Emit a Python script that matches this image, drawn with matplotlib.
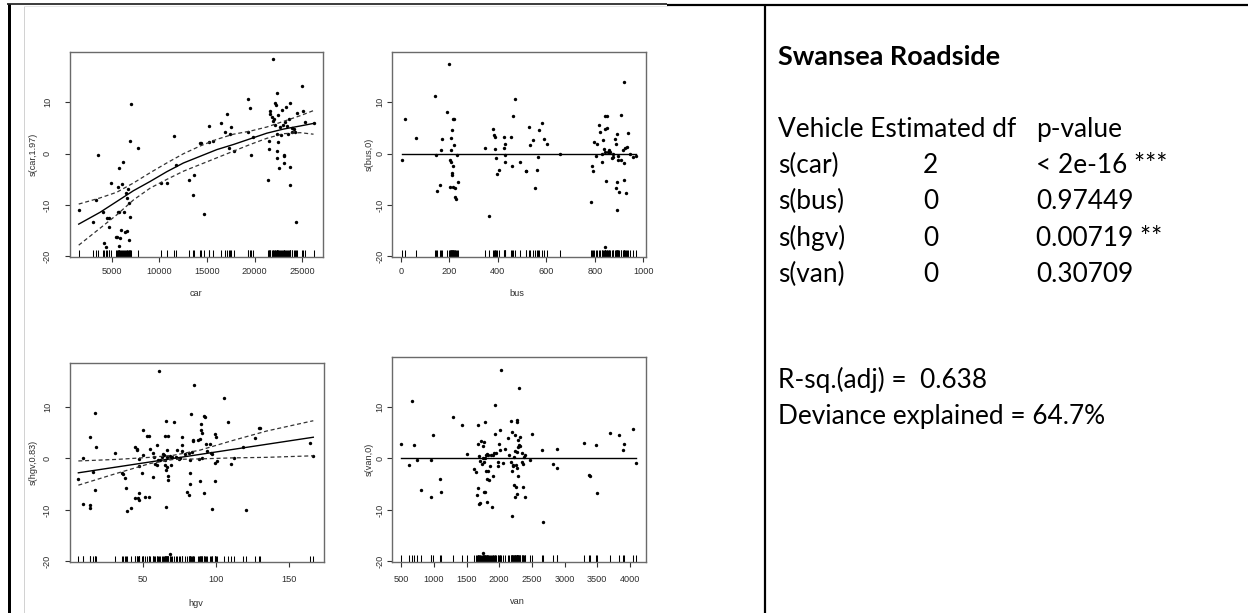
import matplotlib
matplotlib.use("Agg")
import matplotlib.pyplot as plt

# ---------------- data ----------------
car_x = [1535, 3075, 3355, 3600, 4055, 4160, 4370, 4545, 4685, 4755, 4895, 5490, 5595, 5700,
         5700, 5735, 5735, 5805, 5910, 5945, 6120, 6225, 6330, 6435, 6575, 6470, 6610, 6715,
         6820, 6855, 6925, 6925, 7065, 7730,
         10180, 10775, 11510, 11720, 13085, 13505, 13680, 14275, 14380, 14695, 15185, 15185,
         15675, 16515, 16935, 17110, 17320, 17425, 17530, 17880, 19350, 19525, 19350, 19630, 19875,
         21380, 21555, 21555, 21590, 21660, 21800, 21940, 21975, 22045, 22150, 22185, 22290,
         22325, 22325, 22360, 22360, 22430, 22500, 22535, 22675, 22745, 22850, 22955, 23060,
         23095, 23095, 23165, 23270, 23375, 23445, 23585, 23655, 23690, 23725, 23865, 23935,
         24075, 24180, 24355, 24460, 24950, 25020, 25300, 26175]
car_y = [-10.9, -13.3, -9.1, -0.3, -11.4, -17.3, -18.2, -12.6, -12.5, -14.3, -5.7, -16.2, -16.3, -6.4,
         -11.3, -2.7, -18.0, -11.3, -16.4, -14.8, -5.8, -1.7, -11.3, -15.2, -15.0, -7.6, -8.6, -6.8,
         -16.7, -9.6, 2.5, -12.4, 9.6, 1.1,
         -5.6, -5.6, 3.5, -2.1, -5.2, -8.0, -4.2, 2.1, 2.1, -11.7, 5.3, 2.2,
         2.5, 5.9, 4.3, 7.7, 1.2, 3.8, 5.2, 0.6, 10.6, 8.9, 4.3, -0.3, 3.3,
         -5.2, 2.4, 0.9, 7.8, 8.4, 7.1, 18.4, 6.3, 6.7, 5.6, 9.8, 9.5,
         11.8, 3.9, 0.6, -0.8, 2.2, 7.5, -2.8, 5.2, 3.6, 8.5, 5.6, -0.5,
         -0.3, -1.9, 6.2, 9.0, 5.3, 3.9, 6.7, -2.6, 9.9, -6.1, 5.1, 4.2,
         4.8, 4.2, -13.2, 7.9, 13.1, 8.4, 6.1, 5.9]

car_fit_x = [1535, 3775, 5525, 7275, 9025, 10775, 12525, 14275, 16025, 17775, 19525, 21275,
             23025, 24775, 26175]
car_fit_y = [-13.7, -11.4, -9.3, -7.2, -5.4, -3.5, -1.8, -0.5, 0.8, 1.8, 2.9, 4.0, 4.8, 5.4, 5.9]
car_upper = [-9.8, -8.6, -7.5, -5.7, -3.7, -1.8, 0.0, 1.5, 2.8, 3.8, 4.4, 5.2, 6.3, 7.4, 8.4]
car_lower = [-17.8, -14.5, -11.9, -9.0, -6.7, -5.0, -3.4, -2.1, -0.8, 0.5, 1.8, 3.0, 3.9, 4.1, 3.8]

bus_x = [5, 19, 63, 140, 145, 148, 160, 166, 172, 192, 200, 202, 204, 207, 208, 208, 211, 212,
         213, 215, 216, 217, 220, 220, 223, 224, 227, 233, 238, 347, 362, 380, 383, 387, 390,
         392, 398, 403, 424, 424, 428, 429, 431, 453, 457, 462, 469, 490, 516, 518, 527, 531,
         544, 554, 561, 566, 572, 583, 591, 603, 658, 785, 788, 791, 797, 803, 811, 817, 820,
         828, 828, 833, 836, 840, 841, 844, 844, 847, 850, 852, 853, 858, 859, 863, 869, 873,
         877, 885, 886, 889, 890, 892, 893, 895, 897, 901, 907, 908, 915, 919, 920, 922, 926,
         927, 934, 938, 944, 956, 969]
bus_y = [-1.2, 6.7, 3.0, 11.2, -0.2, -7.2, -6.1, 0.8, 2.9, 8.2, 17.5, -6.5, -1.3, 0.8, 3.0, -1.6,
         -4.2, 4.7, -3.7, -2.4, -6.5, 6.7, 6.7, 1.7, -6.6, -8.4, -8.9, -0.2, -5.5, 1.1, -12.2, 4.9,
         3.6, 3.3, 1.0, -0.8, -3.9, -3.2, 3.2, 1.2, 1.9, -1.7, -0.2, 3.2, -2.4, 7.3, 10.6, -1.6,
         -3.4, -3.4, 5.2, 1.7, 2.6, -6.6, -3.1, -0.6, 4.7, 6.0, 2.9, 1.9, -0.1, -9.3, -2.3, -3.4,
         2.3, -0.5, 1.8, 5.6, 4.2, -1.7, 0.0, 2.6, 1.0, 4.9, 7.4, 0.4, -18.2, -5.4, 5.1, 7.3, 0.3,
         0.3, 0.7, 0.3, -0.8, -0.6, 0.0, 2.9, -6.6, 1.9, -5.5, -11.0, 3.8, -1.3, -0.5, -7.5, -1.3,
         7.6, 0.8, 13.9, -5.1, -1.8, 1.2, -7.6, 1.4, 4.0, 0.0, -0.6, -0.5]
bus_fit_x = [5, 969]
bus_fit_y = [0.0, 0.0]

hgv_x = [6.1, 9.3, 9.5, 14.1, 14.3, 14.3, 16.4, 17.3, 17.5, 18.4, 31.4, 36.1, 36.6, 37.7, 38.4,
         39.5, 42.0, 44.5, 45.0, 45.9, 46.4, 47.0, 47.3, 47.5, 47.5, 47.7, 49.3, 50.0, 50.5, 51.4,
         53.0, 54.1, 54.5, 54.8, 56.8, 57.3, 58.0, 58.4, 59.5, 60.0, 60.5, 61.4, 61.8, 63.4, 64.1,
         64.8, 65.0, 65.0, 65.5, 65.7, 65.9, 65.9, 66.4, 66.6, 66.8, 67.0, 67.0, 67.3, 68.6, 68.6,
         69.1, 70.2, 71.1, 72.5, 73.6, 74.5, 75.5, 76.6, 76.8, 77.0, 78.9, 80.5, 81.4, 81.6, 82.3,
         82.5, 82.3, 83.2, 83.4, 84.1, 84.3, 85.0, 87.7, 88.2, 89.1, 89.3, 90.0, 90.0, 90.2, 90.2,
         91.8, 92.0, 92.5, 93.0, 93.6, 95.9, 96.8, 97.0, 97.5, 99.3, 99.3, 99.5, 100.2, 100.5,
         105.5, 108.4, 110.2, 112.5, 118.2, 120.5, 126.6, 129.3, 129.8, 164.3, 166.4]
hgv_y = [-4.0, -8.8, 0.1, 4.1, -9.0, -9.7, -2.7, 8.8, -6.1, 2.3, 1.1, -2.9, -3.1, -3.9, -5.7,
         -10.2, -9.7, -7.7, 2.3, 1.9, 1.6, -7.7, -0.2, -1.4, -6.8, -8.1, -2.9, 5.6, 0.6, -7.4,
         4.3, 4.3, -7.5, 1.9, -3.7, 1.0, 0.3, -1.1, -1.2, 2.6, -0.3, 16.9, -0.3, 0.3, 0.8,
         0.6, 4.4, -1.2, -0.3, -2.3, 7.2, -9.5, 1.6, -1.6, 0.3, 4.3, -3.5, -4.2, 0.5, -18.5,
         -1.2, 0.3, 7.1, 0.2, 1.6, -0.1, 0.0, 1.5, 4.2, 2.5, 0.8, -6.5, 1.0, -7.1, -2.9,
         -5.0, -0.3, 8.6, 1.3, 3.4, 3.5, 14.3, 3.5, -0.2, -4.4, 3.7, 5.6, 6.6, 5.0, 0.0,
         8.2, -6.8, 8.1, 2.8, 1.5, 2.8, 1.0, 0.8, -9.9, -0.8, 4.7, -4.3, 4.1, -0.5,
         11.7, 7.1, -1.0, 0.0, 2.3, -10.1, 4.0, 5.8, 5.8, 2.9, 0.5]
hgv_fit_x = [6.1, 166.4]
hgv_fit_y = [-2.8, 4.1]
hgv_band_x = [6.1, 32.3, 55.0, 70.9, 89.1, 111.8, 134.5, 166.4]
hgv_upper = [-0.5, -0.2, 0.2, 0.6, 1.6, 3.5, 5.3, 7.3]
hgv_lower = [-5.2, -2.9, -1.0, -0.2, -0.1, 0.1, 0.2, 0.5]

van_x = [500, 620, 671, 701, 741, 796, 957, 962, 982, 1087, 1102, 1288, 1434, 1504, 1619, 1645,
         1655, 1670, 1675, 1680, 1685, 1690, 1705, 1710, 1725, 1730, 1745, 1755, 1755, 1760, 1765,
         1770, 1780, 1785, 1790, 1800, 1805, 1810, 1815, 1815, 1825, 1830, 1850, 1860, 1870, 1890,
         1900, 1905, 1920, 1930, 1940, 1950, 1976, 1981, 1991, 2006, 2016, 2026, 2056, 2086, 2132,
         2157, 2177, 2182, 2192, 2192, 2202, 2207, 2217, 2227, 2232, 2237, 2242, 2247, 2252, 2257,
         2267, 2267, 2272, 2277, 2277, 2282, 2287, 2292, 2297, 2302, 2312, 2322, 2342, 2352, 2362,
         2367, 2377, 2387, 2392, 2473, 2498, 2649, 2669, 2824, 2880, 2885, 3296, 3378, 3383, 3475,
         3500, 3694, 3836, 3892, 3907, 4047, 4090]
van_y = [2.8, -1.3, 11.2, 2.7, -0.3, -6.1, -7.4, -0.3, 4.6, -3.9, -6.6, 8.1, 6.5, 0.8, -2.1, -2.6,
         -7.1, 2.8, -5.7, 6.5, 0.5, -8.8, -8.7, -0.5, 3.4, -1.0, 2.5, 0.1, -18.4, 3.2, -6.6,
         -0.6, 7.1, 0.0, -6.6, 0.6, -2.5, 0.8, -4.0, -8.5, -2.5, 0.6, -4.2, -1.4, 0.6, -9.4,
         -3.5, 0.6, 1.0, 4.7, 10.3, 1.1, -1.5, -0.6, 2.9, 1.6, 5.5, 17.2, -0.8, 1.9, 3.9,
         0.6, -0.6, 7.3, -2.4, -11.2, 5.2, -1.2, -1.4, -5.2, 0.3, 1.5, -7.5, 4.6, -1.3, -5.5,
         -1.9, 7.4, 7.0, -6.9, 1.3, -3.5, 3.5, 2.3, 13.7, 2.6, 4.1, 2.5, 1.1, -0.6, -5.5,
         -1.0, 0.3, -7.5, 0.6, -0.2, 4.8, 1.6, -12.3, -1.0, 1.9, -1.9, 3.0, -3.2, -3.5, 2.6,
         -6.8, 5.0, 4.5, 1.7, 2.8, 5.8, -0.8]
van_fit_x = [500, 4090]
van_fit_y = [0.0, 0.0]

y_ticks = [-20, -10, 0, 10]

vehicles = ["s(car)", "s(bus)", "s(hgv)", "s(van)"]
est_df = ["2", "0", "0", "0"]
p_values = ["< 2e-16 ***", "0.97449", "0.00719 **", "0.30709"]
title_text = "Swansea Roadside"
header_left = "Vehicle Estimated df"
header_right = "p-value"
rsq_text = "R-sq.(adj) =  0.638"
dev_text = "Deviance explained = 64.7%"

# ---------------- figure ----------------
W, H = 1248, 613
fig = plt.figure(figsize=(W / 100, H / 100), dpi=100)
fig.patch.set_facecolor("white")

ov = fig.add_axes([0, 0, 1, 1], zorder=0)
ov.set_xlim(0, W)
ov.set_ylim(H, 0)
ov.axis("off")

PT = 0.72  # points per pixel
R_FONT = ["Liberation Sans", "DejaVu Sans"]
R_SIZE = 6.6
R_COL = "#2e2e2e"


def px_axes(x0, y0, x1, y1):
    return fig.add_axes([x0 / W, 1 - y1 / H, (x1 - x0) / W, (y1 - y0) / H], zorder=2)


def panel(box, x, y, xlim, ylim, xticks, xpad, ypad, xlabel, xlab_pos, ylabel, ylab_x,
          fit_x, fit_y, band_x=None, upper=None, lower=None):
    ax = px_axes(*box)
    ax.set_facecolor("none")
    ax.scatter(x, y, s=6.0, c="black", marker="o", linewidths=0, zorder=3)
    ax.vlines(x, 0, 0.032, transform=ax.get_xaxis_transform(), colors="black",
              linewidth=0.75, zorder=2)
    ax.plot(fit_x, fit_y, color="black", lw=1.0, zorder=4)
    if band_x is not None:
        ax.plot(band_x, upper, color="#333333", lw=0.9, ls=(0, (3.2, 2.2)), zorder=4)
        ax.plot(band_x, lower, color="#333333", lw=0.9, ls=(0, (3.2, 2.2)), zorder=4)
    ax.set_xlim(*xlim)
    ax.set_ylim(*ylim)
    ax.set_xticks(xticks)
    ax.set_xticklabels([str(t) for t in xticks])
    ax.set_yticks(y_ticks)
    ax.set_yticklabels([str(t) for t in y_ticks])
    for sp in ax.spines.values():
        sp.set_color("#6a6a6a")
        sp.set_linewidth(1.0)
    ax.tick_params(axis="both", direction="out", length=4.7 * PT, width=0.8,
                   color="#333333", labelsize=R_SIZE, labelcolor=R_COL)
    ax.tick_params(axis="x", pad=xpad)
    ax.tick_params(axis="y", pad=ypad)
    for lab in ax.get_xticklabels() + ax.get_yticklabels():
        lab.set_fontfamily(R_FONT)
    for lab in ax.get_yticklabels():
        lab.set_rotation(90)
        lab.set_va("center")
    ov.text(xlab_pos[0], xlab_pos[1], xlabel, ha="center", va="center",
            fontsize=R_SIZE, color=R_COL, family=R_FONT)
    yc = (box[1] + box[3]) / 2
    ov.text(ylab_x, yc, ylabel, ha="center", va="center", rotation=90,
            fontsize=R_SIZE, color=R_COL, family=R_FONT)
    return ax


panel((70, 52, 323, 257), car_x, car_y, (620, 27170), (-20.1, 19.8),
      [5000, 10000, 15000, 20000, 25000], 4.1, 9.6, "car", (196, 293), "s(car,1.97)", 33,
      car_fit_x, car_fit_y, car_fit_x, car_upper, car_lower)
panel((392, 52, 646, 257), bus_x, bus_y, (-36, 1011), (-20.1, 19.8),
      [0, 200, 400, 600, 800, 1000], 4.1, 1.8, "bus", (517, 293), "s(bus,0)", 369,
      bus_fit_x, bus_fit_y)
panel((70, 363, 324, 562), hgv_x, hgv_y, (0.4, 173.7), (-20.1, 18.5),
      [50, 100, 150], 6.0, 9.6, "hgv", (196, 603), "s(hgv,0.83)", 33,
      hgv_fit_x, hgv_fit_y, hgv_band_x, hgv_upper, hgv_lower)
panel((392, 357, 646, 562), van_x, van_y, (360, 4245), (-20.1, 19.7),
      [500, 1000, 1500, 2000, 2500, 3000, 3500, 4000], 6.0, 1.8, "van", (517, 602),
      "s(van,0)", 369, van_fit_x, van_fit_y)

# ---------------- table frame ----------------
ov.plot([24, 24], [6, H], color="#d2d2d2", lw=1.0 * PT, solid_capstyle="butt")
ov.plot([24, 667], [6.2, 6.2], color="#e6e6e6", lw=1.0 * PT, solid_capstyle="butt")
ov.plot([7, 667], [4.2, 4.2], color="black", lw=1.5 * PT, solid_capstyle="butt")
ov.plot([667, W], [5.0, 5.0], color="black", lw=2.2 * PT, solid_capstyle="butt")
ov.plot([8.5, 8.5], [3.5, H], color="black", lw=3.0 * PT, solid_capstyle="butt")
ov.plot([765, 765], [4, H], color="black", lw=2.2 * PT, solid_capstyle="butt")

# ---------------- right-hand text ----------------
T_FONT = ["Lato", "DejaVu Sans"]
probe = ov.text(0, 0, dev_text, fontsize=20, family=T_FONT)
probe_b = ov.text(0, 0, title_text, fontsize=20, family=T_FONT, weight="bold")
fig.canvas.draw()
r = fig.canvas.get_renderer()
w_reg = probe.get_window_extent(r).width
w_bold = probe_b.get_window_extent(r).width
probe.remove()
probe_b.remove()
size_reg = 20 * 328 / w_reg
size_bold = 20 * 222 / w_bold

X1, X2, X3 = 778, 923, 1036
ov.text(X1, 65, title_text, fontsize=size_bold, weight="bold", family=T_FONT,
        va="baseline", ha="left", color="black")
ov.text(X1, 137, header_left, fontsize=size_reg, family=T_FONT, va="baseline", color="black")
ov.text(X3, 137, header_right, fontsize=size_reg, family=T_FONT, va="baseline", color="black")
for i, (v, d, p) in enumerate(zip(vehicles, est_df, p_values)):
    yb = 173 + 36.3 * i
    ov.text(X1, yb, v, fontsize=size_reg, family=T_FONT, va="baseline", color="black")
    ov.text(X2, yb, d, fontsize=size_reg, family=T_FONT, va="baseline", color="black")
    ov.text(X3, yb, p, fontsize=size_reg, family=T_FONT, va="baseline", color="black")
ov.text(X1, 388, rsq_text, fontsize=size_reg, family=T_FONT, va="baseline", color="black")
ov.text(X1, 424, dev_text, fontsize=size_reg, family=T_FONT, va="baseline", color="black")

fig.savefig("out.png", dpi=100, facecolor="white")
